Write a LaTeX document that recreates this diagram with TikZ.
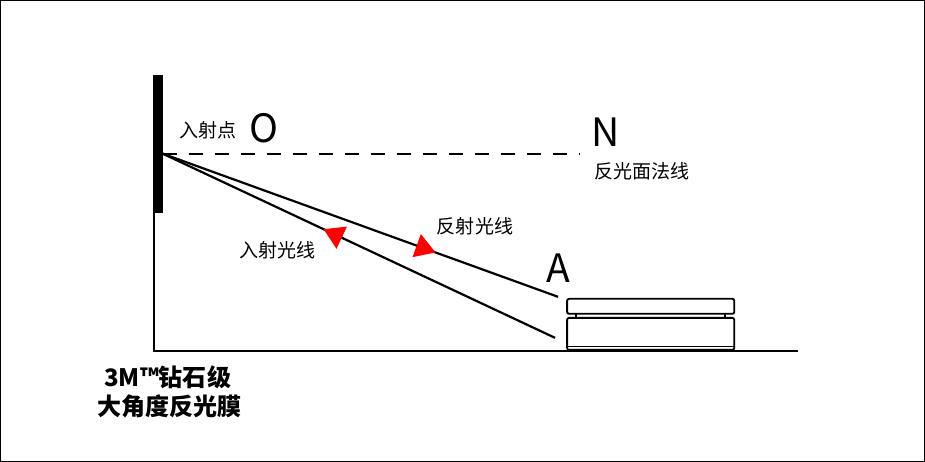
\documentclass[tikz,border=0pt]{standalone}
\usepackage{fontspec}
\setmainfont{Noto Sans CJK SC}
\usetikzlibrary{arrows.meta,decorations.markings}
\tikzset{
  lbl/.style={font=\fontsize{19}{21}\selectfont, inner sep=0pt},
  big/.style={font=\fontsize{39}{41}\selectfont, inner sep=0pt},
  ray/.style={line width=2.2pt},
  redtip/.style={postaction={decorate, decoration={markings,
      mark=at position #1 with {\arrow{Triangle[red,length=20pt,width=24pt]}}}}}
}
\begin{document}
\begin{tikzpicture}[x=1pt,y=-1pt]
\draw[line width=1pt] (1,1) rectangle (924,461);
% wall and ground
\fill (153,75) rectangle (163,213);
\draw[line width=2pt] (154,213) -- (154,351) -- (798,351);
\coordinate (O) at (163,154);
\coordinate (Nend) at (580,154);
\coordinate (inc) at (555,338);
\coordinate (refl) at (558,297);
\draw[line width=2pt, dash pattern=on 14pt off 12pt] (O) -- (Nend);
% rays
\draw[ray, redtip={0.59}] (inc) -- (O);
\draw[ray, redtip={0.69}] (O) -- (refl);
% labels
\node[lbl] (lblO) at (208,131) {入射点};
\node[big] (ptO) at (264,129) {O};
\node[big] (ptN) at (605,133) {N};
\node[lbl] (lblN) at (642,172) {反光面法线};
\node[lbl] (lblR) at (475,227) {反射光线};
\node[lbl] (lblI) at (278,250) {入射光线};
\node[big] (ptA) at (558,268) {A};
\node[lbl, font=\fontsize{24}{26}\selectfont\bfseries] (film1) at (168,377) {3M™钻石级};
\node[lbl, font=\fontsize{24}{26}\selectfont\bfseries] (film2) at (170,406) {大角度反光膜};
% block
\draw[line width=1.8pt, rounded corners=2pt] (567,299) rectangle (734,314);
\draw[line width=1.8pt] (576,314) -- (576,318) (725,314) -- (725,318);
\draw[line width=1.8pt, rounded corners=2pt] (567,318) rectangle (734,350);
\draw[line width=1.2pt] (567,347) -- (734,347);
\end{tikzpicture}
\end{document}
